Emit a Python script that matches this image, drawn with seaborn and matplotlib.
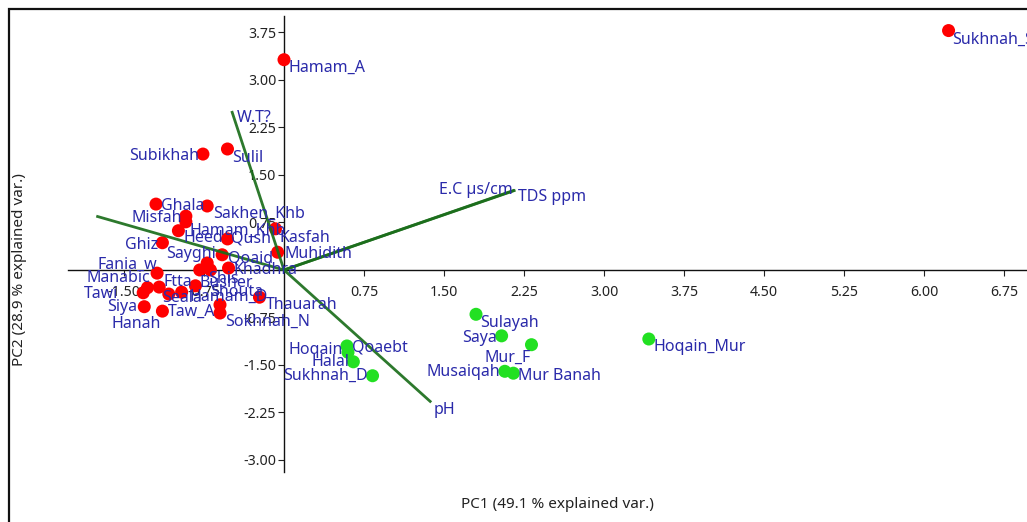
import numpy as np
import pandas as pd
import matplotlib
matplotlib.use("Agg")
import matplotlib.pyplot as plt
import seaborn as sns
from matplotlib.patches import Rectangle

# ---------------- data ----------------
site_names = [
    "Sukhnah_S", "Hamam_A", "Subikhah", "Sulil", "Ghala", "Sakhen_Khb", "Misfah",
    "Hamam_Khb", "Heed", "Qush", "Kasfah", "Muhidith", "Ghiz", "Qoaid", "Sayghi",
    "Khadhra", "Shouta", "Shis", "Fania_w", "Manabic", "Ftta", "Tawi", "Seala",
    "Hamam_D", "Busher", "Siya", "Hanah", "Taw_A", "Sokhnah_N", "Thauarah",
    "Sulayah", "Saya", "Mur_F", "Musaiqah", "Mur Banah", "Hoqain", "Qoaebt",
    "Halal", "Sukhnah_D", "Hoqain_Mur",
]
pc1 = [
    6.23, 0.00, -0.76, -0.53, -1.20, -0.72, -0.92,
    -0.92, -0.99, -0.53, -0.08, -0.06, -1.14, -0.58, -0.72,
    -0.52, -0.79, -0.69, -1.19, -1.28, -1.17, -1.32, -1.08,
    -0.96, -0.83, -1.31, -1.14, -0.60, -0.60, -0.23,
    1.80, 2.04, 2.32, 2.07, 2.15, 0.59, 0.60,
    0.65, 0.83, 3.42,
]
pc2 = [
    3.78, 3.32, 1.83, 1.91, 1.04, 1.01, 0.85,
    0.76, 0.62, 0.49, 0.65, 0.28, 0.43, 0.24, 0.11,
    0.03, 0.00, 0.00, -0.05, -0.28, -0.27, -0.36, -0.38,
    -0.35, -0.25, -0.58, -0.65, -0.55, -0.68, -0.43,
    -0.70, -1.04, -1.18, -1.60, -1.63, -1.20, -1.30,
    -1.45, -1.67, -1.09,
]
site_group = ["Group 1"] * 30 + ["Group 2"] * 10

loading_names = ["W.T?", "pH", "E.C µs/cm", "TDS ppm", ""]
loading_pc1 = [-0.49, 1.38, 2.16, 2.17, -1.76]
loading_pc2 = [2.51, -2.09, 1.26, 1.26, 0.85]

x_ticks = [-1.50, -0.75, 0.75, 1.50, 2.25, 3.00, 3.75, 4.50, 5.25, 6.00, 6.75]
y_ticks = [-3.00, -2.25, -1.50, -0.75, 0.75, 1.50, 2.25, 3.00, 3.75]

x_title = "PC1 (49.1 % explained var.)"
y_title = "PC2 (28.9 % explained var.)"

# ---------------- label placement (screen pixel offsets: dx right, dy down) ----------------
site_label_offsets = {
    "Sukhnah_S": (4, 9, "left"), "Hamam_A": (4, 8, "left"), "Subikhah": (-4, 2, "right"),
    "Sulil": (5, 9, "left"), "Ghala": (5, 2, "left"), "Sakhen_Khb": (6, 8, "left"),
    "Misfah": (-4, 2, "right"), "Hamam_Khb": (4, 9, "left"), "Heed": (5, 7, "left"),
    "Qush": (4, 0, "left"), "Kasfah": (4, 9, "left"), "Muhidith": (7, 2, "left"),
    "Ghiz": (-4, 2, "right"), "Qoaid": (6, 4, "left"), "Sayghi": (9, -9, "right"),
    "Khadhra": (5, 2, "left"), "Shouta": (10, 22, "left"), "Shis": (-2, 9, "left"),
    "Fania_w": (0, -8, "right"), "Manabic": (3, -10, "right"), "Ftta": (4, -5, "left"),
    "Tawi": (-25, 1, "right"), "Seala": (-7, 4, "left"), "Hamam_D": (8, 5, "left"),
    "Busher": (4, -3, "left"), "Siya": (-7, 0, "right"), "Hanah": (-2, 13, "right"),
    "Taw_A": (-5, 7, "right"), "Sokhnah_N": (5, 9, "left"), "Thauarah": (6, 8, "left"),
    "Sulayah": (4, 9, "left"), "Saya": (-5, 2, "right"), "Mur_F": (-1, 13, "right"),
    "Musaiqah": (-5, 1, "right"), "Mur Banah": (5, 3, "left"), "Hoqain": (-4, 4, "right"),
    "Qoaebt": (4, -5, "left"), "Halal": (-4, 0, "right"), "Sukhnah_D": (-5, 0, "right"),
    "Hoqain_Mur": (5, 8, "left"),
}
loading_label_offsets = {
    "W.T?": (5, 7, "left"), "pH": (2, 8, "left"),
    "E.C µs/cm": (-2, 0, "right"), "TDS ppm": (3, 7, "left"), "": (0, 0, "left"),
}

RED = "#ff0000"
GREEN = "#22e022"
LINE = "#1b6e1b"
TXT = "#2a2aaa"

# ---------------- figure ----------------
sns.set_theme(style="white")
plt.rcParams["font.family"] = ["Noto Sans", "DejaVu Sans"]

W, H = 1027, 522
fig = plt.figure(figsize=(W / 100, H / 100), dpi=100)
fig.patch.set_facecolor("white")

ax_left, ax_right, ax_top, ax_bot = 68, 1030.7, 16, 472
ax = fig.add_axes([ax_left / W, 1 - ax_bot / H, (ax_right - ax_left) / W, (ax_bot - ax_top) / H])
ax.set_facecolor("white")

df = pd.DataFrame({"pc1": pc1, "pc2": pc2, "group": site_group, "name": site_names})

sns.scatterplot(data=df, x="pc1", y="pc2", hue="group",
                palette={"Group 1": RED, "Group 2": GREEN},
                s=88, edgecolor="none", linewidth=0, legend=False, ax=ax, zorder=3)

for nm, lx, ly in zip(loading_names, loading_pc1, loading_pc2):
    ax.plot([0, lx], [0, ly], color=LINE, lw=2.0, alpha=0.92, zorder=4, solid_capstyle="butt")
    if nm:
        dx, dy, ha = loading_label_offsets[nm]
        ax.annotate(nm, (lx, ly), xytext=(dx, -dy), textcoords="offset pixels",
                    ha=ha, va="center", color=TXT, fontsize=11.5, zorder=6)

for nm, x, y in zip(site_names, pc1, pc2):
    dx, dy, ha = site_label_offsets[nm]
    ax.annotate(nm, (x, y), xytext=(dx, -dy), textcoords="offset pixels",
                ha=ha, va="center", color=TXT, fontsize=11.5, zorder=6,
                annotation_clip=False)

ax.set_xlim(-2.025, 7.0)
ax.set_ylim(-3.19, 4.01)

for side in ["top", "right"]:
    ax.spines[side].set_visible(False)
ax.spines["left"].set_position(("data", 0))
ax.spines["bottom"].set_position(("data", 0))
for side in ["left", "bottom"]:
    ax.spines[side].set_color("#111111")
    ax.spines[side].set_linewidth(1.0)

ax.set_xticks(x_ticks)
ax.set_yticks(y_ticks)
ax.set_xticklabels([f"{v:.2f}" for v in x_ticks])
ax.set_yticklabels([f"{v:.2f}" for v in y_ticks])
ax.tick_params(axis="x", direction="out", length=4, width=0.8, pad=7, labelsize=10.2,
               colors="#222222", bottom=True)
ax.tick_params(axis="y", direction="out", length=4, width=0.8, pad=1.5, labelsize=10.2,
               colors="#222222", left=True)
ax.set_xlabel("")
ax.set_ylabel("")
ax.grid(False)

fig.text(557 / W, 1 - 505 / H, x_title, ha="center", va="center", fontsize=11, color="#222222")
fig.text(20 / W, 1 - 270 / H, y_title, ha="center", va="center", rotation=90,
         fontsize=11, color="#222222")

# outer frame of the original screenshot
fig.patches.append(Rectangle((9 / W, -0.05), 1.1, 1 - 9 / H + 0.05, transform=fig.transFigure,
                             fill=False, edgecolor="#111111", linewidth=1.6, zorder=0))

fig.savefig("out.png", dpi=100)
